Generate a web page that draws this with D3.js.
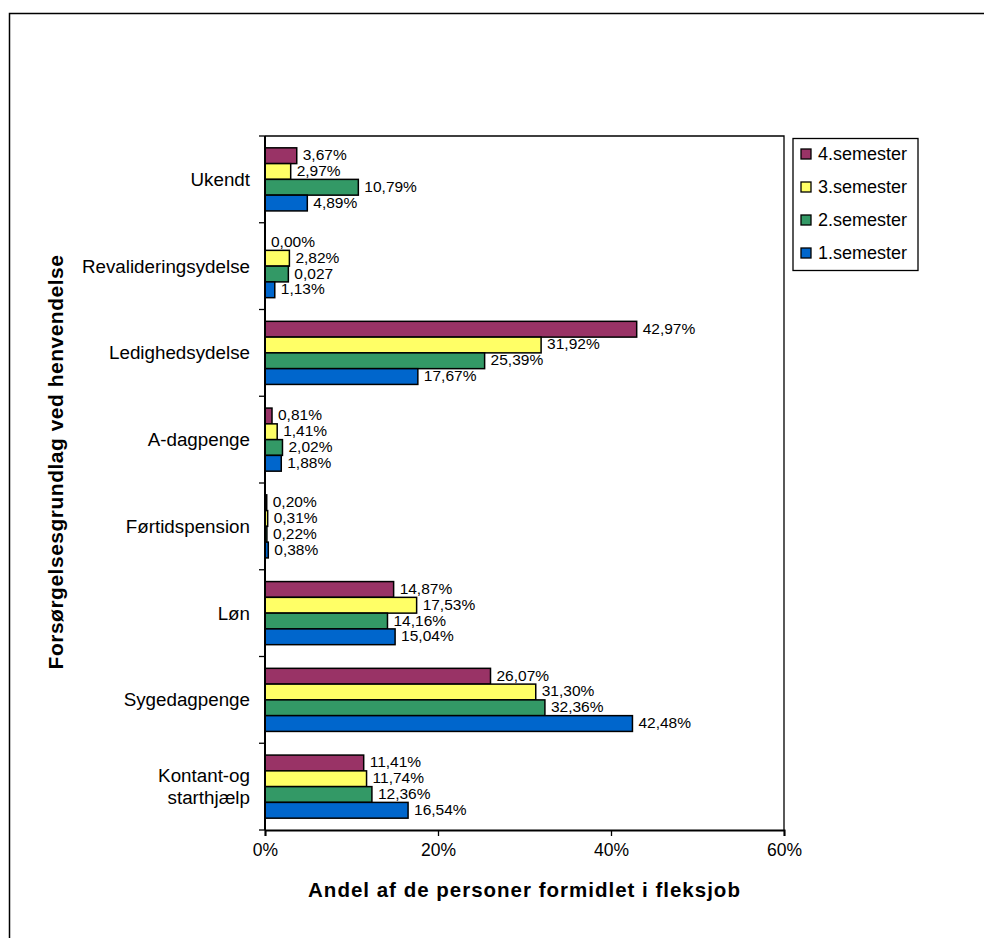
<!DOCTYPE html>
<html>
<head>
<meta charset="utf-8">
<script src="https://cdn.jsdelivr.net/npm/d3@7"></script>
<style>
  html, body { margin: 0; padding: 0; background: #fff; }
  svg { display: block; font-family: Arial, "Liberation Sans", sans-serif; }
</style>
</head>
<body>
<svg id="chart" width="984" height="938"></svg>
<script>
// Categories, top to bottom
const categories = [
  "Ukendt",
  "Revalideringsydelse",
  "Ledighedsydelse",
  "A-dagpenge",
  "Førtidspension",
  "Løn",
  "Sygedagpenge",
  "Kontant-og starthjælp"
];

// Series, drawn top to bottom within each category
const seriesNames = ["4.semester", "3.semester", "2.semester", "1.semester"];
const seriesColors = ["#993366", "#FFFF66", "#339966", "#0066CC"];

// Shares (fractions) per series, in category order
const sem4 = [0.0367, 0.0000, 0.4297, 0.0081, 0.0020, 0.1487, 0.2607, 0.1141];
const sem3 = [0.0297, 0.0282, 0.3192, 0.0141, 0.0031, 0.1753, 0.3130, 0.1174];
const sem2 = [0.1079, 0.0270, 0.2539, 0.0202, 0.0022, 0.1416, 0.3236, 0.1236];
const sem1 = [0.0489, 0.0113, 0.1767, 0.0188, 0.0038, 0.1504, 0.4248, 0.1654];

// One cell is labelled as a plain number rather than a percentage
const plainLabels = [["Revalideringsydelse", "2.semester"]];

const xTicks = [0, 0.2, 0.4, 0.6];
const xTitle = "Andel af de personer formidlet i fleksjob";
const yTitle = "Forsørgelsesgrundlag ved henvendelse";

const seriesValues = [sem4, sem3, sem2, sem1];

const svg = d3.select("#chart");

// Outer frame
svg.append("rect")
  .attr("x", 9.5).attr("y", 13.5)
  .attr("width", 1000).attr("height", 1000)
  .attr("fill", "#fff").attr("stroke", "#000").attr("stroke-width", 1.5);

const plot = { left: 265, right: 784, top: 136, bottom: 830 };

const x = d3.scaleLinear().domain([0, 0.6]).range([plot.left, plot.right]);

const gap = 1.5 / 5.5;
const y0 = d3.scaleBand()
  .domain(categories)
  .range([plot.top, plot.bottom])
  .paddingInner(gap)
  .paddingOuter(gap / 2);

const y1 = d3.scaleBand()
  .domain(seriesNames)
  .range([0, y0.bandwidth()]);

const color = d3.scaleOrdinal().domain(seriesNames).range(seriesColors);

// Plot area border (top and right)
svg.append("path")
  .attr("d", `M${plot.left},${plot.top}H${plot.right}V${plot.bottom}`)
  .attr("fill", "none").attr("stroke", "#000").attr("stroke-width", 1.3);

// Records
const records = [];
categories.forEach((c, i) => {
  seriesNames.forEach((s, j) => {
    records.push({ cat: c, series: s, value: seriesValues[j][i] });
  });
});

const pctFmt = v => d3.format(".2f")(v * 100).replace(".", ",") + "%";
const plainFmt = v => String(v).replace(".", ",");
const isPlain = d => plainLabels.some(p => p[0] === d.cat && p[1] === d.series);

// Bars
svg.append("g").selectAll("rect")
  .data(records)
  .join("rect")
  .attr("x", x(0))
  .attr("y", d => y0(d.cat) + y1(d.series))
  .attr("width", d => x(d.value) - x(0))
  .attr("height", y1.bandwidth())
  .attr("fill", d => color(d.series))
  .attr("stroke", "#000")
  .attr("stroke-width", d => d.value > 0 ? 1.5 : 0);

// Value labels
svg.append("g").selectAll("text")
  .data(records)
  .join("text")
  .attr("x", d => x(d.value) + 6)
  .attr("y", d => y0(d.cat) + y1(d.series) + y1.bandwidth() / 2 - 1)
  .attr("dominant-baseline", "central")
  .attr("font-size", 15.5)
  .attr("fill", "#000")
  .text(d => isPlain(d) ? plainFmt(d.value) : pctFmt(d.value));

// Category axis
const yAxis = svg.append("g");
yAxis.append("line")
  .attr("x1", plot.left).attr("x2", plot.left)
  .attr("y1", plot.top).attr("y2", plot.bottom)
  .attr("stroke", "#000").attr("stroke-width", 2);
const step = y0.step();
const boundaries = d3.range(categories.length + 1).map(i => plot.top + i * step);
yAxis.selectAll("line.tick")
  .data(boundaries)
  .join("line")
  .attr("class", "tick")
  .attr("x1", plot.left - 6).attr("x2", plot.left)
  .attr("y1", d => d).attr("y2", d => d)
  .attr("stroke", "#000").attr("stroke-width", 1.3);

// Category labels (the two-word label wraps onto two lines)
const catLabels = yAxis.selectAll("text.cat")
  .data(categories)
  .join("text")
  .attr("class", "cat")
  .attr("text-anchor", "end")
  .attr("font-size", 18.8)
  .attr("fill", "#000");
catLabels.each(function(c) {
  const t = d3.select(this);
  const cy = y0(c) + y0.bandwidth() / 2;
  const parts = c === "Kontant-og starthjælp" ? ["Kontant-og", "starthjælp"] : [c];
  const lh = 22;
  parts.forEach((p, k) => {
    t.append("tspan")
      .attr("x", 250)
      .attr("y", cy + (k - (parts.length - 1) / 2) * lh)
      .attr("dominant-baseline", "central")
      .text(p);
  });
});

// Value axis
const xAxis = svg.append("g")
  .attr("transform", `translate(0,${plot.bottom})`)
  .call(d3.axisBottom(x)
    .tickValues(xTicks)
    .tickFormat(d3.format(".0%"))
    .tickSize(6)
    .tickPadding(8));
xAxis.select(".domain").attr("stroke", "#000").attr("stroke-width", 2);
xAxis.selectAll(".tick line").attr("stroke", "#000").attr("stroke-width", 1.3);
xAxis.selectAll(".tick text")
  .attr("font-size", 17.5)
  .attr("font-family", "Arial, 'Liberation Sans', sans-serif")
  .attr("fill", "#000");

// Axis titles
svg.append("text")
  .attr("x", (plot.left + plot.right) / 2)
  .attr("y", 897)
  .attr("text-anchor", "middle")
  .attr("font-size", 20.5)
  .attr("font-weight", "bold")
  .attr("letter-spacing", 1)
  .text(xTitle);

svg.append("text")
  .attr("transform", `translate(63,462) rotate(-90)`)
  .attr("text-anchor", "middle")
  .attr("font-size", 21)
  .attr("font-weight", "bold")
  .attr("letter-spacing", 0.5)
  .text(yTitle);

// Legend
const legend = svg.append("g");
legend.append("rect")
  .attr("x", 793).attr("y", 138.5)
  .attr("width", 125).attr("height", 132)
  .attr("fill", "#fff").attr("stroke", "#000").attr("stroke-width", 1.3);
const items = legend.selectAll("g.item")
  .data(seriesNames)
  .join("g")
  .attr("class", "item")
  .attr("transform", (d, i) => `translate(801,${154 + i * 33})`);
items.append("rect")
  .attr("x", 0).attr("y", -5)
  .attr("width", 10).attr("height", 10)
  .attr("fill", d => color(d))
  .attr("stroke", "#000").attr("stroke-width", 1.3);
items.append("text")
  .attr("x", 17).attr("y", 0)
  .attr("dominant-baseline", "central")
  .attr("font-size", 18)
  .text(d => d);
</script>
</body>
</html>
